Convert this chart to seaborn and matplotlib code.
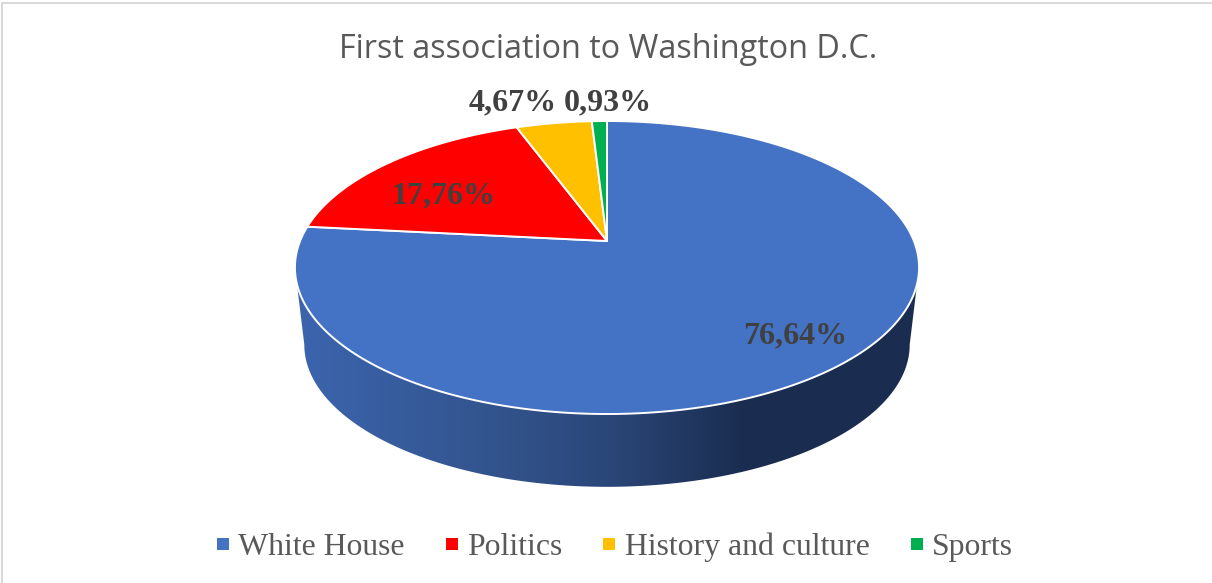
import numpy as np
import matplotlib
matplotlib.use("Agg")
import matplotlib.pyplot as plt
import seaborn as sns
from matplotlib.colors import LinearSegmentedColormap
from matplotlib.lines import Line2D
from matplotlib.patches import PathPatch
from matplotlib.path import Path
from matplotlib.transforms import Affine2D, Transform

categories = ["White House", "Politics", "History and culture", "Sports"]
shares = [76.64, 17.76, 4.67, 0.93]
slice_colors = ["#4472C4", "#FF0000", "#FFC000", "#00B050"]
title = "First association to Washington D.C."

sns.set_theme(style="white")
W, H = 1212, 583
fig = plt.figure(figsize=(W / 100, H / 100), dpi=100, facecolor="white")
ax = fig.add_axes([0, 0, 1, 1])

# perspective projection of the unit disc into the picture
CX, CY, A, B, K = 607.0, 241.0, 306.9, 141.7, 0.181


def project(x, y, scale=1.0, dy=0.0):
    w = 1 + K * y
    return CX + scale * A * x / w, CY + dy - scale * B * y / w


class Tilt(Transform):
    input_dims = output_dims = 2
    is_separable = False
    has_inverse = False

    def transform_non_affine(self, values):
        v = np.asarray(values, float)
        X, Y = project(v[:, 0], v[:, 1])
        return np.column_stack([X, Y])

    def transform_path_non_affine(self, path):
        big = Affine2D().scale(2000).transform_path(path)
        polys = big.to_polygons(closed_only=True)
        verts = np.vstack(polys) / 2000
        codes = []
        for p in polys:
            codes += [Path.MOVETO] + [Path.LINETO] * (len(p) - 2) + [Path.CLOSEPOLY]
        return Path(self.transform_non_affine(verts), codes)


palette = sns.color_palette(slice_colors)
wedges, _ = ax.pie(shares, colors=palette, startangle=90, counterclock=False,
                   wedgeprops=dict(edgecolor="white", linewidth=1.4))
tilt = Tilt() + ax.transData
for w in wedges:
    w.set_transform(tilt)
    w.set_zorder(3)
ax.set_aspect("auto")
ax.set_xlim(0, W)
ax.set_ylim(H, 0)

# extruded rim, shaded from the first slice's colour
t = np.radians(np.linspace(190.4, 349.6, 200))
tx, ty = project(np.cos(t), np.sin(t))
bx, by = project(np.cos(t), np.sin(t), scale=0.97, dy=78)
rim = np.vstack([np.column_stack([tx, ty]), np.column_stack([bx, by])[::-1]])
rim_patch = PathPatch(Path(np.vstack([rim, rim[:1]]), closed=True), fc="none", ec="none",
                      transform=ax.transData)
ax.add_patch(rim_patch)
cmap = LinearSegmentedColormap.from_list(
    "rim", [(0, "#3C65AE"), (0.3, "#33558F"), (0.5, "#2B4779"),
            (0.72, "#1A2D50"), (1, "#1A2D50")])
img = ax.imshow(np.linspace(0, 1, 300)[None, :], cmap=cmap, aspect="auto", zorder=2,
                extent=[295, 919, 490, 265], interpolation="bilinear")
img.set_clip_path(rim_patch)
ax.set_xlim(0, W)
ax.set_ylim(H, 0)

# chart frame: only top and left rules are visible
ax.plot([2, 2, W], [H, 3, 3], color="#D9D9D9", lw=1.5, zorder=1)

ax.text(608, 49, title, family="Open Sans", fontsize=23.3, color="#595959",
        ha="center", va="center")

label_pos = [(795, 336), (443, 196), (513, 103), (608, 103)]
for v, (x, y) in zip(shares, label_pos):
    ax.text(x, y, f"{v:.2f}%".replace(".", ","), family="Liberation Serif", weight="bold",
            fontsize=23.0, color="#404040", ha="center", va="center", zorder=5)

handles = [Line2D([], [], ls="none", marker="s", ms=8.4, mew=0, color=c) for c in slice_colors]
leg = ax.legend(handles, categories, loc="center", bbox_to_anchor=(615 / W, 1 - 547 / H),
                ncol=4, frameon=False, borderpad=0, borderaxespad=0,
                handlelength=0.37, handletextpad=0.3, columnspacing=1.29,
                prop={"family": "Liberation Serif", "size": 22.9})
for txt in leg.get_texts():
    txt.set_color("#595959")

fig.savefig("out.png", dpi=100, facecolor="white")
